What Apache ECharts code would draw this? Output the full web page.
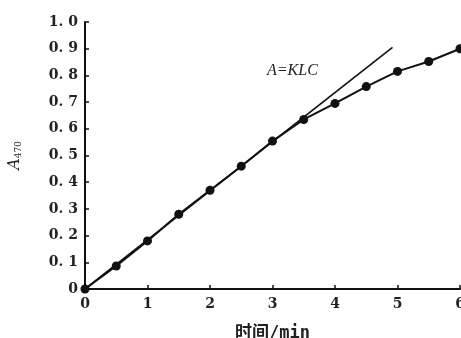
<!DOCTYPE html>
<html>
<head>
<meta charset="utf-8">
<script src="https://cdn.jsdelivr.net/npm/echarts@6/dist/echarts.min.js"></script>
<style>
  html, body { margin: 0; padding: 0; background: #fff; }
  #main { width: 461px; height: 338px; }
</style>
</head>
<body>
<div id="main"></div>
<script>
  // 时间 (min) and A470 readings
  const times = [0, 0.5, 1, 1.5, 2, 2.5, 3, 3.5, 4, 4.5, 5, 5.5, 6]
  const absorb = [0, 0.086, 0.18, 0.28, 0.37, 0.46, 0.554, 0.635, 0.695, 0.758, 0.815, 0.852, 0.90]
  // initial slope line A=KLC
  const tangentX = [0, 4.92]
  const tangentY = [0, 0.905]
  const yTicks = ['0', '0. 1', '0. 2', '0. 3', '0. 4', '0. 5', '0. 6', '0. 7', '0. 8', '0. 9', '1. 0']

  const labelFont = {
    color: '#222',
    fontFamily: 'DejaVu Serif',
    fontWeight: 'bold',
    fontSize: 14
  }

  const chart = echarts.init(document.getElementById('main'))
  chart.setOption({
    animation: false,
    grid: { left: 85, right: 1, top: 22, bottom: 49, outerBoundsMode: 'none' },
    xAxis: {
      type: 'value',
      min: 0,
      max: 6,
      interval: 1,
      name: '时间/min',
      nameLocation: 'middle',
      nameGap: 36,
      nameTextStyle: { color: '#222', fontFamily: 'DejaVu Sans Mono, Noto Sans CJK SC', fontSize: 17, fontWeight: 'bold' },
      axisLine: { lineStyle: { color: '#111', width: 2 } },
      axisTick: { inside: true, length: 4, lineStyle: { color: '#111', width: 1.5 } },
      axisLabel: Object.assign({ margin: 8 }, labelFont),
      splitLine: { show: false }
    },
    yAxis: {
      type: 'value',
      min: 0,
      max: 1,
      interval: 0.1,
      name: '{a|A}{s|470}',
      nameLocation: 'middle',
      nameGap: 62,
      nameRotate: 90,
      nameTextStyle: {
        rich: {
          a: { fontFamily: 'DejaVu Serif', fontStyle: 'italic', fontSize: 16, color: '#222' },
          s: { fontFamily: 'DejaVu Serif', fontSize: 9, color: '#222', verticalAlign: 'bottom', padding: [7, 0, 0, 0] }
        }
      },
      axisLine: { show: true, lineStyle: { color: '#111', width: 2 } },
      axisTick: { show: true, inside: true, length: 4, lineStyle: { color: '#111', width: 1.5 } },
      axisLabel: Object.assign({
        margin: 7,
        formatter: (v, i) => yTicks[i]
      }, labelFont),
      splitLine: { show: false }
    },
    series: [
      {
        type: 'line',
        data: tangentX.map((x, i) => [x, tangentY[i]]),
        symbol: 'none',
        lineStyle: { color: '#111', width: 1.6 },
        silent: true
      },
      {
        type: 'line',
        data: times.map((t, i) => [t, absorb[i]]),
        symbol: 'circle',
        symbolSize: 9,
        itemStyle: { color: '#111' },
        lineStyle: { color: '#111', width: 2 }
      }
    ],
    graphic: [
      {
        type: 'text',
        left: 267,
        top: 63,
        style: {
          text: 'A=KLC',
          font: 'italic 16px "Liberation Serif"',
          fill: '#222'
        }
      }
    ]
  })
</script>
</body>
</html>
